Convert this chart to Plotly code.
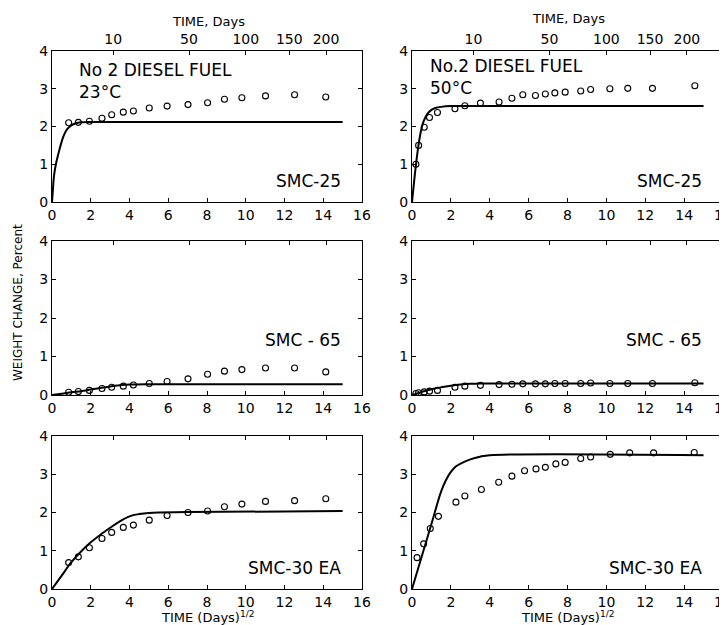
import numpy as np
import plotly.graph_objects as go

# ---------------- data ----------------
x_ticks = [0, 2, 4, 6, 8, 10, 12, 14, 16]
y_ticks = [0, 1, 2, 3, 4]
top_days = [10, 50, 100, 150, 200]
top_labels = ["10", "50", "100", "150", "200"]

# 23 C measurement times (sqrt days)
t23 = [0.86, 1.36, 1.93, 2.58, 3.08, 3.68, 4.2, 5.02, 5.94, 7.02, 8.03, 8.9, 9.8, 11.02, 12.52, 14.13]
# 50 C measurement times (sqrt days)
t50 = [0.2, 0.34, 0.63, 0.9, 1.31, 2.21, 2.72, 3.52, 4.48, 5.14, 5.7, 6.35, 6.86, 7.35, 7.88, 8.68, 9.19, 10.18, 11.1, 12.37, 14.55]
t50b = [0.26, 0.6, 0.94, 1.36, 2.26, 2.72, 3.57, 4.46, 5.14, 5.79, 6.38, 6.86, 7.4, 7.88, 8.68, 9.19, 10.2, 11.2, 12.43, 14.52]

# SMC-25, 23 C
smc25_23_pts = [2.1, 2.11, 2.14, 2.22, 2.31, 2.38, 2.41, 2.49, 2.54, 2.58, 2.63, 2.72, 2.76, 2.81, 2.84, 2.78]
smc25_23_cx = [0, 0.05, 0.1, 0.2, 0.3, 0.4, 0.5, 0.6, 0.7, 0.8, 1.0, 1.2, 1.5, 2.0, 3.0, 15.0]
smc25_23_cy = [0, 0.35, 0.68, 1.0, 1.22, 1.42, 1.6, 1.75, 1.86, 1.94, 2.03, 2.08, 2.11, 2.12, 2.12, 2.12]

# SMC-25, 50 C
smc25_50_pts = [1.0, 1.5, 1.98, 2.24, 2.37, 2.47, 2.55, 2.62, 2.65, 2.75, 2.84, 2.82, 2.86, 2.89, 2.91, 2.94, 2.98, 3.0, 3.01, 3.01, 3.08]
smc25_50_cx = [0, 0.05, 0.1, 0.15, 0.2, 0.3, 0.4, 0.5, 0.6, 0.8, 1.0, 1.2, 1.5, 2.0, 3.0, 15.0]
smc25_50_cy = [0, 0.25, 0.5, 0.75, 0.97, 1.38, 1.72, 1.97, 2.14, 2.34, 2.44, 2.49, 2.52, 2.54, 2.54, 2.54]

# SMC-65, 23 C
smc65_23_pts = [0.07, 0.09, 0.12, 0.17, 0.2, 0.23, 0.26, 0.3, 0.35, 0.42, 0.54, 0.62, 0.66, 0.7, 0.7, 0.6]
smc65_23_cx = [0, 0.5, 1.0, 1.5, 2.0, 2.5, 3.0, 3.5, 4.0, 5.0, 15.0]
smc65_23_cy = [0, 0.03, 0.07, 0.1, 0.14, 0.18, 0.22, 0.25, 0.27, 0.28, 0.28]

# SMC-65, 50 C
smc65_50_pts = [0.04, 0.06, 0.08, 0.1, 0.12, 0.2, 0.23, 0.25, 0.27, 0.28, 0.29, 0.29, 0.29, 0.3, 0.3, 0.3, 0.31, 0.3, 0.3, 0.3, 0.32]
smc65_50_cx = [0, 0.5, 1.0, 1.5, 2.0, 2.5, 3.0, 3.5, 4.0, 15.0]
smc65_50_cy = [0, 0.08, 0.15, 0.2, 0.24, 0.27, 0.29, 0.3, 0.3, 0.3]

# SMC-30 EA, 23 C
smc30_23_pts = [0.69, 0.84, 1.08, 1.32, 1.48, 1.61, 1.67, 1.8, 1.92, 2.0, 2.04, 2.15, 2.22, 2.29, 2.31, 2.36]
smc30_23_cx = [0, 0.5, 1.0, 1.5, 2.0, 2.5, 3.0, 3.5, 4.0, 4.5, 5.0, 7.0, 15.0]
smc30_23_cy = [0, 0.35, 0.7, 0.98, 1.22, 1.42, 1.6, 1.77, 1.9, 1.96, 1.99, 2.01, 2.04]

# SMC-30 EA, 50 C
smc30_50_pts = [0.82, 1.18, 1.58, 1.9, 2.27, 2.43, 2.6, 2.79, 2.95, 3.09, 3.14, 3.18, 3.27, 3.31, 3.41, 3.45, 3.52, 3.56, 3.56, 3.57]
smc30_50_cx = [0, 0.5, 1.0, 1.5, 1.75, 2.0, 2.25, 2.5, 3.0, 3.5, 4.0, 15.0]
smc30_50_cy = [0, 0.85, 1.7, 2.55, 2.85, 3.06, 3.2, 3.28, 3.39, 3.46, 3.5, 3.5]

panels = [
    (t23, smc25_23_pts, smc25_23_cx, smc25_23_cy, "SMC-25"),
    (t50, smc25_50_pts, smc25_50_cx, smc25_50_cy, "SMC-25"),
    (t23, smc65_23_pts, smc65_23_cx, smc65_23_cy, "SMC - 65"),
    (t50, smc65_50_pts, smc65_50_cx, smc65_50_cy, "SMC - 65"),
    (t23, smc30_23_pts, smc30_23_cx, smc30_23_cy, "SMC-30 EA"),
    (t50b, smc30_50_pts, smc30_50_cx, smc30_50_cy, "SMC-30 EA"),
]
label_y = [0.56, 0.56, 1.43, 1.43, 0.55, 0.55]

# ---------------- layout geometry ----------------
W, H = 727, 625
xdoms = [[44 / W, 354 / W], [404 / W, 715 / W]]
ydoms = [[1 - 194 / H, 1 - 43 / H], [1 - 387 / H, 1 - 233 / H], [1 - 581 / H, 1 - 428 / H]]

FONT = "DejaVu Sans"
fig = go.Figure()
layout = dict(
    template="none",
    width=W, height=H, margin=dict(l=0, r=0, t=0, b=0, pad=0, autoexpand=False),
    paper_bgcolor="white", plot_bgcolor="white", showlegend=False,
    font=dict(family=FONT, color="black", size=14),
)
annotations = []

for i, (tx, py, cx, cy, lab) in enumerate(panels):
    n = i + 1
    row, col = i // 2, i % 2
    xa, ya, xt = f"x{n}", f"y{n}", f"x{n + 6}"
    fig.add_trace(go.Scatter(x=cx, y=cy, mode="lines", xaxis=xa, yaxis=ya,
                             line=dict(color="black", width=2), line_shape="spline",
                             hoverinfo="skip"))
    fig.add_trace(go.Scatter(x=tx, y=py, mode="markers", xaxis=xa, yaxis=ya,
                             marker=dict(symbol="circle-open", size=6, color="black",
                                         line=dict(width=1.1, color="black"))))
    fig.add_trace(go.Scatter(x=[0], y=[-1], xaxis=xt, yaxis=ya, mode="markers",
                             marker=dict(size=1, color="rgba(0,0,0,0)"),
                             showlegend=False, hoverinfo="skip"))
    sfx = "" if n == 1 else str(n)
    common = dict(ticks="inside", ticklen=4, tickcolor="black", showline=True,
                  linecolor="black", linewidth=1.3, showgrid=False, zeroline=False,
                  automargin=False, tickfont=dict(size=14, family=FONT))
    layout["xaxis" + sfx] = dict(
        domain=xdoms[col], anchor=ya, range=[0, 16], tickvals=x_ticks, mirror=False,
        **common)
    layout["yaxis" + sfx] = dict(
        domain=ydoms[row], anchor=xa, range=[0, 4], tickvals=y_ticks, mirror="ticks",
        **common)
    layout[f"xaxis{n + 6}"] = dict(
        overlaying=xa, anchor=ya, side="top", range=[0, 16],
        tickvals=list(np.sqrt(top_days)), ticktext=top_labels,
        showticklabels=(row == 0), **common)
    annotations.append(dict(xref=xa, yref=ya, x=15.0, y=label_y[i], text=lab,
                            showarrow=False, xanchor="right", yanchor="middle",
                            font=dict(size=17, family=FONT)))

# panel titles
annotations += [
    dict(xref="x1", yref="y1", x=1.3, y=3.5, text="No 2 DIESEL FUEL", showarrow=False,
         xanchor="left", yanchor="middle", font=dict(size=17, family=FONT)),
    dict(xref="x1", yref="y1", x=1.3, y=2.92, text="23°C", showarrow=False,
         xanchor="left", yanchor="middle", font=dict(size=17, family=FONT)),
    dict(xref="x2", yref="y2", x=0.82, y=3.6, text="No.2 DIESEL FUEL", showarrow=False,
         xanchor="left", yanchor="middle", font=dict(size=17, family=FONT)),
    dict(xref="x2", yref="y2", x=0.82, y=3.02, text="50°C", showarrow=False,
         xanchor="left", yanchor="middle", font=dict(size=17, family=FONT)),
]
# axis titles
for cx_px, ty in [(200, 13), (560, 10)]:
    annotations.append(dict(xref="paper", yref="paper", x=cx_px / W, y=1 - ty / H,
                            text="TIME, Days", showarrow=False, xanchor="center",
                            yanchor="middle", font=dict(size=13, family=FONT)))
for cx_px in [200, 560]:
    annotations.append(dict(xref="paper", yref="paper", x=cx_px / W, y=1 - 609 / H,
                            text="TIME (Days)<sup>1/2</sup>", showarrow=False,
                            xanchor="center", yanchor="middle",
                            font=dict(size=13, family=FONT)))
annotations.append(dict(xref="paper", yref="paper", x=10 / W, y=1 - 295 / H,
                        text="WEIGHT CHANGE, Percent", textangle=-90, showarrow=False,
                        xanchor="center", yanchor="middle",
                        font=dict(size=12, family=FONT)))

layout["annotations"] = annotations
fig.update_layout(**layout)
fig.write_html("out.html")
